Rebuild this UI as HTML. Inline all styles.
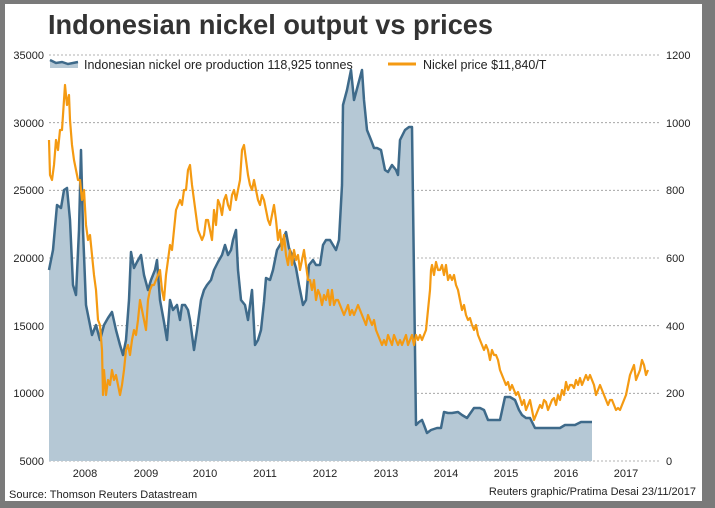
<!DOCTYPE html>
<html><head><meta charset="utf-8"><style>
html,body{margin:0;padding:0;background:#777;}
svg{display:block;font-family:"Liberation Sans",sans-serif;}
</style></head><body>
<svg width="715" height="508" viewBox="0 0 715 508">
<rect x="0" y="0" width="715" height="508" fill="#7a7a7a"/>
<rect x="5" y="4" width="697" height="497" fill="#fff"/>
<text x="48" y="34" font-size="28" font-weight="bold" fill="#333" textLength="445" lengthAdjust="spacingAndGlyphs">Indonesian nickel output vs prices</text>
<g stroke="#999" stroke-width="0.8" stroke-dasharray="2,2">
<line x1="49" y1="55" x2="660" y2="55"/><line x1="49" y1="122.7" x2="660" y2="122.7"/>
<line x1="49" y1="190.3" x2="660" y2="190.3"/><line x1="49" y1="258" x2="660" y2="258"/>
<line x1="49" y1="325.7" x2="660" y2="325.7"/><line x1="49" y1="393.3" x2="660" y2="393.3"/>
<line x1="49" y1="461" x2="660" y2="461"/>
</g>
<g font-size="11" fill="#222" text-anchor="end">
<text x="44" y="59">35000</text><text x="44" y="127">30000</text><text x="44" y="194">25000</text>
<text x="44" y="262">20000</text><text x="44" y="330">15000</text><text x="44" y="397">10000</text><text x="44" y="465">5000</text>
</g>
<g font-size="11" fill="#222" text-anchor="start">
<text x="666" y="59">1200</text><text x="666" y="127">1000</text><text x="666" y="194">800</text>
<text x="666" y="262">600</text><text x="666" y="330">400</text><text x="666" y="397">200</text><text x="666" y="465">0</text>
</g>
<g font-size="11" fill="#222" text-anchor="middle">
<text x="85" y="477">2008</text><text x="146" y="477">2009</text><text x="205" y="477">2010</text><text x="265" y="477">2011</text>
<text x="325" y="477">2012</text><text x="386" y="477">2013</text><text x="446" y="477">2014</text><text x="506" y="477">2015</text>
<text x="566" y="477">2016</text><text x="626" y="477">2017</text>
</g>
<polygon fill="#b5c8d5" stroke="none" points="49,461 49,270 53,250 57,205 61,208 64,190 67,188 70,220 73,285 76,295 79,230 81,150 83,230 86,305 89,320 92,335 96,325 100,340 104,325 108,318 112,312 116,330 120,345 123,355 126,340 129,300 131,252 134,268 137,262 141,255 144,275 148,290 151,280 155,270 157,260 160,300 164,322 167,340 170,300 173,310 177,305 180,320 182,305 185,305 188,310 190,320 194,350 197,330 201,300 204,290 207,285 211,280 214,270 218,262 222,255 225,245 228,255 231,250 233,240 236,230 238,270 241,300 245,305 248,320 252,290 255,345 258,340 261,330 264,302 266,278 270,280 273,270 277,250 280,245 283,240 286,232 289,248 292,255 296,268 299,285 303,305 306,300 309,265 313,260 316,265 320,265 323,245 326,240 330,240 333,245 336,250 339,240 342,185 343,105 347,90 351,70 354,100 358,85 362,70 364,100 367,130 371,140 374,148 377,148 381,150 385,170 388,172 392,165 396,170 398,175 400,140 405,130 409,127 412,127 416,425 419,422 422,420 424,425 427,433 431,430 437,428 441,428 444,412 448,413 452,413 458,412 462,415 467,418 474,408 480,408 484,410 488,420 494,420 500,420 505,397 510,397 515,400 519,410 522,415 526,418 530,418 535,428 540,428 560,428 565,425 575,425 581,422 592,422 592,461"/>
<polyline fill="none" stroke="#3e6a8a" stroke-width="2.5" stroke-linejoin="round" points="49,270 53,250 57,205 61,208 64,190 67,188 70,220 73,285 76,295 79,230 81,150 83,230 86,305 89,320 92,335 96,325 100,340 104,325 108,318 112,312 116,330 120,345 123,355 126,340 129,300 131,252 134,268 137,262 141,255 144,275 148,290 151,280 155,270 157,260 160,300 164,322 167,340 170,300 173,310 177,305 180,320 182,305 185,305 188,310 190,320 194,350 197,330 201,300 204,290 207,285 211,280 214,270 218,262 222,255 225,245 228,255 231,250 233,240 236,230 238,270 241,300 245,305 248,320 252,290 255,345 258,340 261,330 264,302 266,278 270,280 273,270 277,250 280,245 283,240 286,232 289,248 292,255 296,268 299,285 303,305 306,300 309,265 313,260 316,265 320,265 323,245 326,240 330,240 333,245 336,250 339,240 342,185 343,105 347,90 351,70 354,100 358,85 362,70 364,100 367,130 371,140 374,148 377,148 381,150 385,170 388,172 392,165 396,170 398,175 400,140 405,130 409,127 412,127 416,425 419,422 422,420 424,425 427,433 431,430 437,428 441,428 444,412 448,413 452,413 458,412 462,415 467,418 474,408 480,408 484,410 488,420 494,420 500,420 505,397 510,397 515,400 519,410 522,415 526,418 530,418 535,428 540,428 560,428 565,425 575,425 581,422 592,422"/>
<polyline fill="none" stroke="#f49a12" stroke-width="2.2" stroke-linejoin="round" points="49,140 50,175 52,180 54,165 56,140 58,150 60,130 62,130 63,115 65,85 67,105 69,95 70,120 72,145 74,160 76,170 78,180 80,180 82,200 84,190 86,225 88,240 90,235 92,255 94,275 96,290 98,320 100,325 102,350 103,395 104,370 106,395 108,380 110,385 112,370 114,380 116,375 118,385 120,395 122,385 124,370 126,350 128,345 130,355 132,340 134,330 136,335 138,320 140,300 142,310 144,320 146,330 148,300 150,290 152,285 154,285 156,280 158,275 160,270 162,290 164,300 166,275 168,260 170,245 172,250 174,230 176,210 178,205 180,200 182,205 184,190 186,190 188,170 190,165 192,185 194,200 196,215 198,230 200,235 202,240 204,235 206,220 208,220 210,230 212,240 214,210 216,225 218,200 220,205 222,215 224,200 226,195 228,205 230,210 232,195 234,190 236,200 238,190 240,180 242,150 244,145 246,160 248,175 250,185 252,190 254,180 256,190 258,200 260,205 262,195 264,200 266,210 268,220 270,225 272,215 274,205 276,220 278,240 280,230 282,250 284,235 286,255 288,265 290,250 292,265 294,250 296,260 298,255 300,270 302,260 304,250 306,265 308,280 310,280 312,290 314,280 316,300 318,290 320,295 322,305 324,295 326,300 328,290 330,305 332,290 334,305 336,300 338,300 340,305 342,310 344,315 346,310 348,305 350,315 352,310 354,315 356,310 358,305 360,310 362,315 364,320 366,325 368,315 370,320 372,325 374,320 376,330 378,335 380,340 382,345 384,340 386,345 388,335 390,340 392,345 394,335 396,340 398,345 400,340 402,345 404,340 406,335 408,345 410,340 412,335 414,345 416,335 418,340 420,335 422,340 424,335 426,330 428,310 430,290 431,270 432,265 434,275 436,262 438,270 440,270 442,265 444,275 446,265 448,280 450,275 452,280 454,275 456,285 458,290 460,300 462,310 464,305 466,315 468,320 470,318 472,325 474,330 476,325 478,335 480,340 482,345 484,350 486,345 488,350 490,360 492,350 494,355 496,355 498,360 500,370 502,375 504,380 506,385 508,382 510,390 512,385 514,390 516,395 518,392 520,398 522,405 524,400 526,410 528,405 530,400 532,410 534,420 536,415 538,410 540,405 542,408 544,400 546,402 548,410 550,405 552,400 554,398 556,405 558,395 560,400 562,390 564,395 566,382 568,390 570,385 572,385 574,388 576,380 578,385 580,378 582,385 584,380 586,375 588,380 590,375 592,380 594,385 596,395 598,390 600,385 602,390 604,395 606,400 608,405 610,400 612,400 614,405 616,410 618,408 620,410 622,405 624,400 626,395 628,385 630,375 632,370 634,365 636,380 638,375 640,370 642,360 644,365 646,375 648,370"/>
<path d="M50,60 L56,63 L62,62 L68,64 L78,62 L78,68 L50,68 Z" fill="#b5c8d5"/>
<polyline points="50,60 56,63 62,62 68,64 78,62" fill="none" stroke="#3e6a8a" stroke-width="2.5"/>
<text x="84" y="69" font-size="12.5" fill="#222">Indonesian nickel ore production 118,925 tonnes</text>
<line x1="388" y1="64" x2="416" y2="64" stroke="#f49a12" stroke-width="3"/>
<text x="423" y="69" font-size="12.5" fill="#222">Nickel price $11,840/T</text>
<text x="9" y="498" font-size="11" fill="#222">Source: Thomson Reuters Datastream</text>
<text x="696" y="495" font-size="11" fill="#222" text-anchor="end">Reuters graphic/Pratima Desai 23/11/2017</text>
</svg>
</body></html>
